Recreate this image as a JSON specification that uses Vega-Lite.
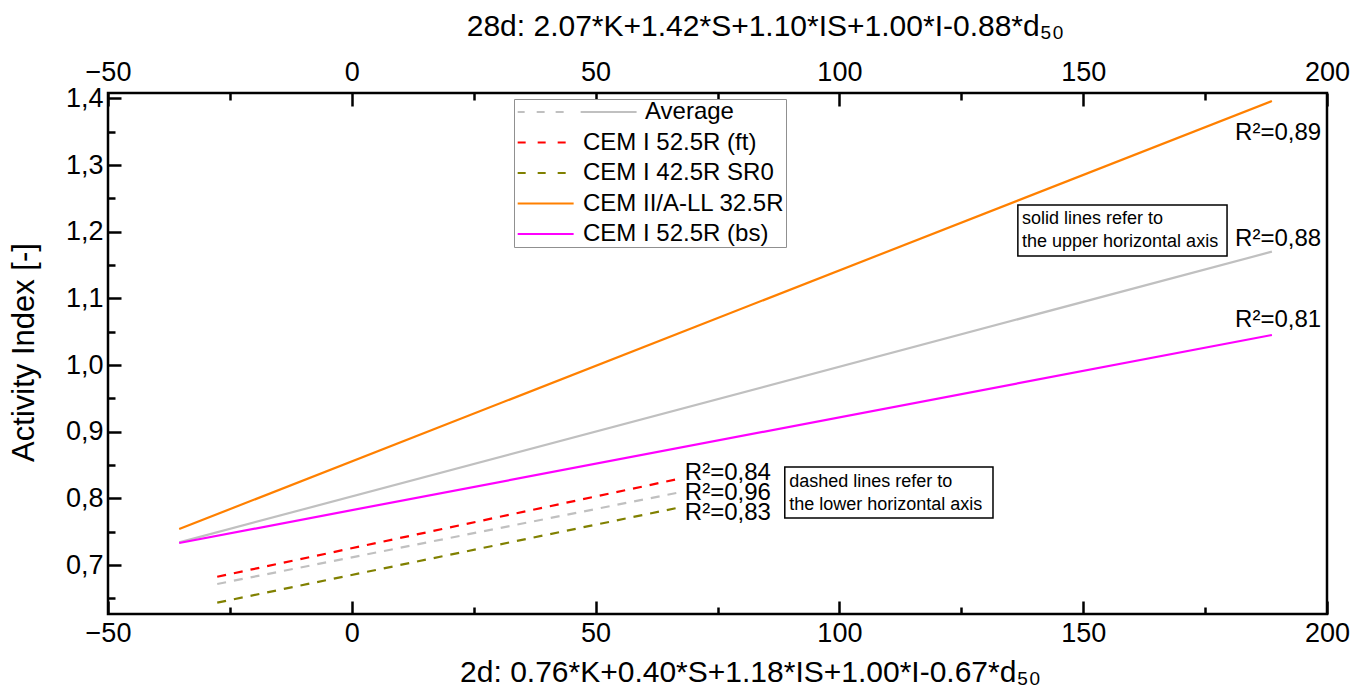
{
  "$schema": "https://vega.github.io/schema/vega-lite/v6.json",
  "width": 1219,
  "height": 521,
  "autosize": {"type": "none"},
  "padding": {"left": 108, "top": 93, "right": 43, "bottom": 83},
  "background": "white",
  "datasets": {
    "lines": [
      {"series": "Average", "axis": "2d", "x": -27.6, "y": 0.6715},
      {"series": "Average", "axis": "2d", "x": 67.9, "y": 0.8099},
      {"series": "CEM I 52.5R (ft)", "axis": "2d", "x": -27.6, "y": 0.6824},
      {"series": "CEM I 52.5R (ft)", "axis": "2d", "x": 67.9, "y": 0.8305},
      {"series": "CEM I 42.5R SR0", "axis": "2d", "x": -27.6, "y": 0.6435},
      {"series": "CEM I 42.5R SR0", "axis": "2d", "x": 67.9, "y": 0.7874},
      {"series": "Average", "axis": "28d", "x": -35.4, "y": 0.734},
      {"series": "Average", "axis": "28d", "x": 188.7, "y": 1.170},
      {"series": "CEM II/A-LL 32.5R", "axis": "28d", "x": -35.4, "y": 0.754},
      {"series": "CEM II/A-LL 32.5R", "axis": "28d", "x": 188.7, "y": 1.396},
      {"series": "CEM I 52.5R (bs)", "axis": "28d", "x": -35.4, "y": 0.733},
      {"series": "CEM I 52.5R (bs)", "axis": "28d", "x": 188.7, "y": 1.045}
    ],
    "r2": [
      {"axis": "28d", "label": "R²=0,89", "x": 198.8, "y": 1.348},
      {"axis": "28d", "label": "R²=0,88", "x": 198.8, "y": 1.1897},
      {"axis": "28d", "label": "R²=0,81", "x": 198.8, "y": 1.0675},
      {"axis": "2d", "label": "R²=0,84", "x": 68.3, "y": 0.838},
      {"axis": "2d", "label": "R²=0,96", "x": 68.3, "y": 0.808},
      {"axis": "2d", "label": "R²=0,83", "x": 68.3, "y": 0.778}
    ],
    "notes": [
      {"note": "solid lines refer to\nthe upper horizontal axis", "tx": 137.45, "ty": 1.219, "x1": 136.6, "x2": 179.5, "y1": 1.24, "y2": 1.1635},
      {"note": "dashed lines refer to\nthe lower horizontal axis", "tx": 89.7, "ty": 0.8245, "x1": 88.8, "x2": 131.5, "y1": 0.847, "y2": 0.7705}
    ]
  },
  "resolve": {"scale": {"x": "shared", "y": "shared"}, "axis": {"x": "independent", "y": "independent"}},
  "layer": [
    {
      "data": {"name": "notes"},
      "mark": {"type": "rect", "fill": "white", "stroke": "black", "strokeWidth": 1.5},
      "encoding": {
        "x": {"field": "x1", "type": "quantitative", "scale": {"domain": [-50, 200], "nice": false, "zero": false, "padding": 0},
          "axis": {"orient": "bottom", "values": [-50, 0, 50, 100, 150, 200], "tickSize": -13, "labelPadding": 19,
            "title": "2d: 0.76*K+0.40*S+1.18*IS+1.00*I-0.67*d₅₀", "titleX": 642, "titleY": 67, "titleBaseline": "alphabetic"}},
        "x2": {"field": "x2"},
        "y": {"field": "y1", "type": "quantitative", "scale": {"domain": [0.6265, 1.408], "nice": false, "zero": false, "padding": 0},
          "axis": {"orient": "left", "values": [0.7, 0.8, 0.9, 1.0, 1.1, 1.2, 1.3, 1.4], "tickSize": -13, "labelPadding": 18,
            "labelExpr": "replace(format(datum.value, '.1f'), '.', ',')",
            "title": "Activity Index [-]", "titleX": -75, "titleY": 259, "titleBaseline": "alphabetic", "titleAlign": "center", "titleAngle": -90, "titleFontSize": 31}},
        "y2": {"field": "y2"}
      }
    },
    {
      "data": {"name": "notes"},
      "mark": {"type": "text", "align": "left", "baseline": "middle", "fontSize": 18, "lineHeight": 23, "lineBreak": "\n", "font": "Liberation Sans", "color": "black"},
      "encoding": {
        "x": {"field": "tx", "type": "quantitative", "scale": {"domain": [-50, 200], "nice": false, "zero": false, "padding": 0},
          "axis": {"orient": "bottom", "values": [-25, 25, 75, 125, 175], "tickSize": -7, "labels": false, "title": null}},
        "y": {"field": "ty", "type": "quantitative", "scale": {"domain": [0.6265, 1.408], "nice": false, "zero": false, "padding": 0},
          "axis": {"orient": "left", "values": [0.65, 0.75, 0.85, 0.95, 1.05, 1.15, 1.25, 1.35], "tickSize": -7, "labels": false, "title": null}},
        "text": {"field": "note"}
      }
    },
    {
      "data": {"name": "lines"},
      "transform": [{"filter": "datum.axis === '2d'"}],
      "mark": {"type": "line", "strokeWidth": 2.2, "strokeDash": [9, 8]},
      "encoding": {
        "x": {"field": "x", "type": "quantitative", "scale": {"domain": [-50, 200], "nice": false, "zero": false, "padding": 0},
          "axis": {"orient": "top", "values": [-50, 0, 50, 100, 150, 200], "tickSize": -13, "labelPadding": 20,
            "title": "28d: 2.07*K+1.42*S+1.10*IS+1.00*I-0.88*d₅₀", "titleX": 657, "titleY": -58, "titleBaseline": "alphabetic"}},
        "y": {"field": "y", "type": "quantitative", "scale": {"domain": [0.6265, 1.408], "nice": false, "zero": false, "padding": 0}, "axis": null},
        "color": {"field": "series", "type": "nominal",
          "scale": {"domain": ["Average", "CEM I 52.5R (ft)", "CEM I 42.5R SR0", "CEM II/A-LL 32.5R", "CEM I 52.5R (bs)"],
            "range": ["#c0c0c0", "#ff0000", "#808000", "#ff8000", "#ff00ff"]},
          "legend": {"orient": "none", "legendX": 406, "legendY": 6, "title": null, "padding": 1,
            "strokeColor": "#909090", "fillColor": "white",
            "symbolType": "M-1,0H5", "symbolSize": 348, "symbolStrokeWidth": 2, "labelOffset": 44,
            "labelFontSize": 24, "labelFont": "Liberation Sans", "labelColor": "black", "rowPadding": 6.5, "labelLimit": 400,
            "encode": {
              "symbols": {"update": {
                "shape": {"signal": "datum.value === 'Average' ? 'M-1,0H-0.25M1.04,0H1.89M3.07,0H3.93M5.75,0H11.75' : 'M-1,0H5'"},
                "strokeDash": {"signal": "(datum.value === 'CEM I 52.5R (ft)' || datum.value === 'CEM I 42.5R SR0') ? [8, 12] : [1, 0]"}
              }},
              "labels": {"update": {"dx": {"signal": "datum.value === 'Average' ? 62 : 0"}}}
            }}}
      }
    },
    {
      "data": {"name": "lines"},
      "transform": [{"filter": "datum.axis === '28d'"}],
      "mark": {"type": "line", "strokeWidth": 2.2},
      "encoding": {
        "x": {"field": "x", "type": "quantitative", "scale": {"domain": [-50, 200], "nice": false, "zero": false, "padding": 0},
          "axis": {"orient": "top", "values": [-25, 25, 75, 125, 175], "tickSize": -7, "labels": false, "title": null}},
        "y": {"field": "y", "type": "quantitative", "scale": {"domain": [0.6265, 1.408], "nice": false, "zero": false, "padding": 0}, "axis": null},
        "color": {"field": "series", "type": "nominal"}
      }
    },
    {
      "data": {"name": "r2"},
      "transform": [{"filter": "datum.axis === '28d'"}],
      "mark": {"type": "text", "align": "right", "baseline": "middle", "fontSize": 24, "font": "Liberation Sans", "color": "black"},
      "encoding": {
        "x": {"field": "x", "type": "quantitative", "scale": {"domain": [-50, 200], "nice": false, "zero": false, "padding": 0}, "axis": null},
        "y": {"field": "y", "type": "quantitative", "scale": {"domain": [0.6265, 1.408], "nice": false, "zero": false, "padding": 0}, "axis": null},
        "text": {"field": "label"}
      }
    },
    {
      "data": {"name": "r2"},
      "transform": [{"filter": "datum.axis === '2d'"}],
      "mark": {"type": "text", "align": "left", "baseline": "middle", "fontSize": 24, "font": "Liberation Sans", "color": "black"},
      "encoding": {
        "x": {"field": "x", "type": "quantitative", "scale": {"domain": [-50, 200], "nice": false, "zero": false, "padding": 0}, "axis": null},
        "y": {"field": "y", "type": "quantitative", "scale": {"domain": [0.6265, 1.408], "nice": false, "zero": false, "padding": 0}, "axis": null},
        "text": {"field": "label"}
      }
    }
  ],
  "config": {
    "view": {"stroke": "black", "strokeWidth": 2.5},
    "font": "Liberation Sans",
    "scale": {"continuousPadding": 0},
    "axis": {
      "domain": false, "grid": false, "tickColor": "black", "tickWidth": 2.5, "labelFlush": false, "labelOverlap": false,
      "labelFont": "Liberation Sans", "labelFontSize": 27, "labelColor": "black",
      "titleFont": "Liberation Sans", "titleFontSize": 30, "titleFontWeight": "normal", "titleColor": "black"
    }
  }
}
